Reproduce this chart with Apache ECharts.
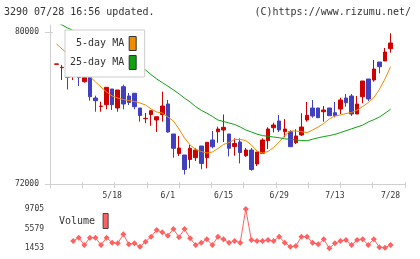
<!DOCTYPE html>
<html><head><meta charset="utf-8">
<script src="https://cdn.jsdelivr.net/npm/echarts@6/dist/echarts.min.js"></script>
<style>html,body{margin:0;padding:0;background:#fff}#c{width:420px;height:259px}</style>
</head><body><div id="c"></div>
<script>
const dates = ['4/28','4/30','5/1','5/7','5/8','5/11','5/12','5/13','5/14','5/15',
 '5/18','5/19','5/20','5/21','5/22','5/25','5/26','5/27','5/28','5/29',
 '6/1','6/2','6/3','6/4','6/5','6/8','6/9','6/10','6/11','6/12',
 '6/15','6/16','6/17','6/18','6/19','6/22','6/23','6/24','6/25','6/26',
 '6/29','6/30','7/1','7/2','7/3','7/6','7/7','7/8','7/9','7/10',
 '7/13','7/14','7/15','7/16','7/17','7/21','7/22','7/23','7/24','7/27','7/28'];
const dateLabels = ['5/18','6/1','6/15','6/29','7/13','7/28'];
const opens = [78300,78120,77842,77700,78053,77384,77630,76526,76080,76174,
 77000,76000,77121,76632,76774,76000,75440,75658,75368,75658,
 76211,74632,73605,73526,73289,73384,74000,73384,74316,74753,
 74842,74632,73974,74211,73489,73789,73053,73616,74279,74963,
 75316,74753,74753,74174,74579,75368,76000,76000,75805,76000,
 75753,75947,76526,76632,75684,76595,77526,77474,78421,78474,79121];
const closes = [78320,78140,77605,77842,77605,77616,76595,76384,76100,77089,
 76174,76947,76211,76289,76068,75605,75455,75858,75542,76105,
 74737,73879,73895,72763,73879,73789,73079,74195,73963,74895,
 74984,73879,74132,73658,73789,72763,73684,74316,74895,75105,
 74842,74895,73963,74526,75000,75616,75579,75489,75895,75595,
 75595,76421,76279,75684,76211,77421,76474,78053,78174,78947,79421];
const lows = [78300,77474,76974,77474,77158,77332,76384,75805,75805,75932,
 75895,75805,75932,76158,75932,75279,75195,75068,74737,75279,
 74700,73384,73474,72500,72826,73211,72774,72826,73879,74174,
 74211,73450,73489,73079,73421,72700,72947,73616,73842,74721,
 74737,74458,73963,74105,74526,75279,75489,75474,75279,75579,
 75511,75684,76068,75579,75684,76247,76368,77384,77826,78474,78911];
const highs = [78320,78263,78090,78105,78053,78090,77630,76650,76332,77089,
 77000,76947,77226,76789,76774,76000,75737,75895,75542,76858,
 76421,74632,74526,73526,74053,73879,74000,74195,74789,75016,
 75658,74632,74405,74405,73895,73895,73684,74405,74984,75226,
 75632,75421,74842,74879,75721,76316,76421,76000,76105,76000,
 76316,76542,76737,76737,76632,77421,77526,78526,78421,79158,79932];
const ma5 = [79368,79105,78842,78579,78316,78053,77658,77368,77105,76842,
 76632,76526,76447,76395,76342,76263,76158,75947,75789,75737,
 75526,75316,74895,74421,74053,73816,73711,73632,73684,73868,
 74079,74184,74342,74342,74289,74053,73737,73632,73711,73921,
 74211,74553,74789,74789,74753,74700,74842,75000,75184,75421,
 75579,75632,75711,75763,75895,76079,76289,76553,76974,77526,78174];
const ma25 = [80526,80368,80211,80079,79895,79737,79579,79421,79263,79105,
 78947,78789,78632,78474,78316,78158,78000,77753,77526,77337,
 77147,76953,76747,76516,76316,76074,75879,75726,75558,75368,
 75289,75211,75132,75000,74842,74737,74626,74547,74511,74474,
 74432,74379,74347,74316,74289,74274,74358,74432,74495,74547,
 74611,74705,74805,74905,75000,75100,75263,75384,75526,75721,75932];
const volume = [null,null,null,2986,3679,2146,3679,3679,2146,3679,
 2629,2503,4393,2293,2503,1789,2839,3889,5296,4813,
 4099,5506,3763,5506,3553,2146,2629,3343,2146,3889,
 3343,2629,2986,2629,9705,3196,2986,2986,3196,2986,
 3889,2629,1789,1936,3889,3889,2629,2293,3343,1453,
 2503,2986,3196,2146,3196,3343,2146,3343,1663,1579,2146];
const priceTicks = [72000, 80000];
const volumeTicks = [1453, 5579, 9705];
const gridDivisions = [0,1,2,3,4,5,6,7,8,9,10,11];

const RED = '#d00000', BLUE = '#4040c0', ORANGE = '#f08c00', GREEN = '#10a010', PINK = '#ff6060';
const AX = '#d0d0d0', TXT = '#333';
const MONO = 'DejaVu Sans Mono';
const PMIN = 72000, PMAX = 80368;
const plain = v => String(Math.round(v));

const candles = opens.map((o, i) => [o, closes[i], lows[i], highs[i]]);

const chart = echarts.init(document.getElementById('c'), null, {renderer: 'canvas'});
chart.setOption({
  animation: false,
  backgroundColor: '#fff',
  title: [
    {text: '3290 07/28 16:56 updated.', left: 4, top: 7, padding: 0,
     textStyle: {fontFamily: MONO, fontSize: 10, fontWeight: 'normal', color: TXT}},
    {text: '(C)https://www.rizumu.net/', right: 9, top: 7, padding: 0,
     textStyle: {fontFamily: MONO, fontSize: 10, fontWeight: 'normal', color: TXT}}
  ],
  legend: [
    {data: [
      {name: '5-day MA', icon: 'rect', itemStyle: {color: ORANGE, borderColor: '#333', borderWidth: 1}},
      {name: '25-day MA', icon: 'rect', itemStyle: {color: GREEN, borderColor: '#333', borderWidth: 1}}
     ],
     orient: 'vertical', align: 'right', left: 65, top: 30, itemWidth: 7, itemHeight: 14, itemGap: 4,
     padding: [6, 8, 7, 5], backgroundColor: '#fff', borderColor: '#ccc', borderWidth: 1,
     selectedMode: false, textStyle: {fontFamily: MONO, fontSize: 10, color: TXT}},
    {data: [{name: 'Volume', icon: 'rect', itemStyle: {color: PINK, borderColor: '#444', borderWidth: 1}}],
     orient: 'vertical', align: 'right', left: 59, top: 213, itemWidth: 5, itemHeight: 15, padding: 0,
     selectedMode: false, textStyle: {fontFamily: MONO, fontSize: 10, color: TXT, padding: [0, 3, 0, 0]}}
  ],
  grid: [
    {left: 50, top: 25, width: 355, height: 159},
    {left: 50, top: 25, width: 355, height: 159},
    {left: 53.72, top: 25, width: 339.6, height: 159},
    {left: 53.72, top: 209, width: 339.6, height: 39.3}
  ],
  xAxis: [
    {gridIndex: 0, type: 'value', min: 0, max: 11, interval: 1,
     axisLine: {show: true, lineStyle: {color: AX}},
     axisTick: {show: true, length: 4, lineStyle: {color: AX}, customValues: gridDivisions},
     axisLabel: {show: false}, splitLine: {show: false}},
    {gridIndex: 1, type: 'value', min: 0, max: 11, interval: 1,
     axisLine: {show: false},
     axisTick: {show: true, inside: true, length: 2, lineStyle: {color: AX}, customValues: gridDivisions},
     axisLabel: {show: false}, splitLine: {show: false}},
    {gridIndex: 2, type: 'category', data: dates, boundaryGap: true,
     axisLine: {show: false}, axisTick: {show: false}, splitLine: {show: false},
     axisLabel: {interval: (i, v) => dateLabels.includes(v), fontFamily: MONO, fontSize: 8, color: TXT, margin: 8}},
    {gridIndex: 3, type: 'category', data: dates, boundaryGap: true, show: false}
  ],
  yAxis: [
    {gridIndex: 0, type: 'value', min: PMIN, max: PMAX,
     axisLine: {show: true, lineStyle: {color: AX}},
     axisTick: {show: true, length: 5, lineStyle: {color: AX}, customValues: priceTicks},
     axisLabel: {customValues: priceTicks, formatter: plain, fontFamily: MONO, fontSize: 8, color: TXT, margin: 11},
     splitLine: {show: false}},
    {gridIndex: 1, type: 'value', min: PMIN, max: PMAX,
     axisLine: {show: false},
     axisTick: {show: true, inside: true, length: 3, lineStyle: {color: AX}, customValues: priceTicks},
     axisLabel: {show: false}, splitLine: {show: false}},
    {gridIndex: 2, type: 'value', min: PMIN, max: PMAX, show: false, splitLine: {show: false}},
    {gridIndex: 3, type: 'value', min: 1453, max: 9705,
     axisLine: {show: false}, axisTick: {show: false}, splitLine: {show: false},
     axisLabel: {customValues: volumeTicks, formatter: plain, fontFamily: MONO, fontSize: 8, color: TXT, margin: 9.7}}
  ],
  series: [
    {type: 'candlestick', name: 'price', xAxisIndex: 2, yAxisIndex: 2, data: candles, barWidth: 4,
     itemStyle: {color: RED, color0: BLUE, borderColor: RED, borderColor0: BLUE, borderWidth: 1}},
    {type: 'line', name: '5-day MA', xAxisIndex: 2, yAxisIndex: 2, data: ma5, symbol: 'none',
     itemStyle: {color: ORANGE}, lineStyle: {color: ORANGE, width: 1}, clip: true},
    {type: 'line', name: '25-day MA', xAxisIndex: 2, yAxisIndex: 2, data: ma25, symbol: 'none',
     itemStyle: {color: GREEN}, lineStyle: {color: GREEN, width: 1}, clip: true},
    {type: 'line', name: 'Volume', xAxisIndex: 3, yAxisIndex: 3, data: volume, symbol: 'diamond', symbolSize: 6,
     showAllSymbol: true,
     itemStyle: {color: PINK}, lineStyle: {color: PINK, width: 1}}
  ]
});
</script></body></html>
